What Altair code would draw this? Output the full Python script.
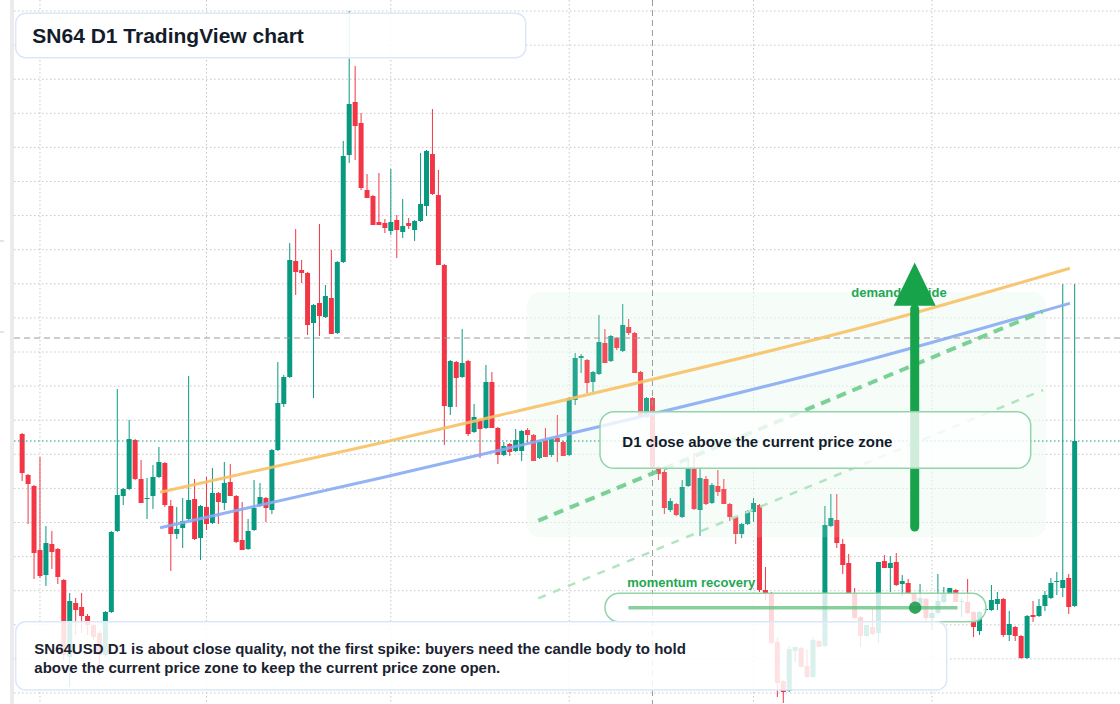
import altair as alt
import pandas as pd

# ---------------- data: SN64USD daily candles (USD), first candle 2025-01-29 ----------------
FIRST_DAY = "2025-01-29"

open_ = [2.70, 2.29, 2.18, 1.54, 1.29, 1.60, 1.55, 1.24, 0.47, 1.01,
         0.97, 0.88, 0.79, 0.71, 0.49, 0.92, 1.73, 2.08, 2.15, 2.64,
         2.25, 2.05, 2.08, 2.27, 2.41, 1.98, 1.70, 1.76, 1.85, 2.05,
         1.66, 1.97, 1.81, 2.11, 2.01, 2.22, 2.08, 1.64, 1.55, 1.74,
         1.98, 2.06, 1.94, 2.54, 3.00, 3.27, 4.43, 4.34, 4.31, 3.81,
         4.01, 3.87, 4.06, 3.71, 4.42, 5.49, 6.02, 5.81, 5.14, 5.08,
         4.82, 4.81, 4.73, 4.84, 4.72, 4.81, 4.74, 4.83, 4.98, 5.50,
         5.09, 4.39, 2.97, 3.42, 3.27, 3.43, 2.72, 2.84, 2.76, 3.22,
         2.76, 2.49, 2.60, 2.53, 2.53, 2.74, 2.69, 2.46, 2.64, 2.49,
         2.66, 2.62, 2.49, 3.04, 3.46, 3.44, 3.22, 3.30, 3.61, 3.43,
         3.66, 3.53, 3.77, 3.71, 3.32, 2.87, 3.06, 2.36, 2.32, 1.94,
         2.00, 1.87, 2.18, 2.35, 1.94, 2.25, 2.01, 2.18, 2.15, 2.00,
         1.87, 1.70, 1.80, 1.92, 1.99, 1.14, 1.11, 0.62, 0.23, 0.13,
         0.53, 0.56, 0.38, 0.27, 0.63, 0.58, 1.78, 1.84, 1.60, 1.41,
         1.11, 0.87, 0.68, 0.77, 0.71, 1.43, 1.36, 1.42, 1.20, 1.21,
         1.10, 0.94, 1.05, 0.86, 0.91, 1.02, 1.11, 1.14, 1.02, 1.02,
         0.92, 0.73, 0.94, 0.94, 1.00, 1.05, 0.69, 0.77, 0.68, 0.46,
         0.89, 0.88, 0.98, 1.06, 1.22, 1.16, 1.26, 0.98]

high = [2.71, 2.30, 2.19, 2.47, 1.78, 1.73, 1.56, 1.25, 1.11, 1.06,
        1.11, 0.90, 0.80, 0.73, 0.93, 1.73, 3.15, 2.16, 2.84, 2.65,
        2.44, 2.26, 2.39, 2.57, 2.42, 2.04, 1.97, 2.06, 3.28, 2.25,
        1.99, 2.27, 2.36, 2.12, 2.42, 2.40, 2.09, 2.02, 1.85, 2.24,
        2.21, 2.07, 2.55, 3.42, 3.29, 4.61, 4.75, 4.44, 4.32, 4.00,
        4.80, 4.19, 4.54, 4.43, 5.63, 6.93, 6.38, 5.91, 5.30, 5.09,
        5.31, 4.85, 5.35, 4.89, 5.05, 4.86, 4.84, 5.51, 5.54, 5.95,
        5.34, 4.40, 3.44, 3.43, 3.75, 3.44, 3.00, 2.85, 3.39, 3.32,
        2.77, 2.62, 2.61, 2.75, 2.74, 2.76, 2.70, 2.63, 2.76, 2.66,
        2.89, 2.63, 3.07, 3.51, 3.50, 3.45, 3.33, 3.89, 3.75, 3.69,
        3.67, 4.00, 3.85, 3.72, 3.33, 3.07, 3.07, 2.38, 2.34, 2.06,
        2.01, 2.24, 2.46, 2.51, 2.37, 2.28, 2.21, 2.34, 2.25, 2.01,
        1.88, 1.81, 1.94, 2.06, 2.00, 1.37, 1.12, 0.67, 0.24, 0.58,
        0.57, 0.57, 0.55, 0.67, 0.64, 1.98, 2.10, 2.10, 1.65, 1.50,
        1.16, 0.88, 0.79, 0.96, 1.42, 1.49, 1.48, 1.51, 1.29, 1.25,
        1.11, 1.20, 1.06, 0.97, 1.30, 1.17, 1.16, 1.15, 1.06, 1.25,
        0.93, 0.93, 0.99, 1.19, 1.12, 1.06, 0.93, 0.78, 0.69, 0.89,
        1.03, 1.05, 1.13, 1.26, 1.32, 4.20, 1.30, 4.20]

low = [2.23, 1.80, 1.25, 1.26, 1.18, 1.35, 1.20, 0.44, 0.17, 0.69,
       0.71, 0.69, 0.64, 0.28, 0.47, 0.91, 1.72, 1.99, 2.14, 2.24,
       2.01, 1.85, 1.95, 2.26, 1.97, 1.33, 1.65, 1.56, 1.83, 1.64,
       1.44, 1.74, 1.80, 1.80, 1.94, 2.20, 1.61, 1.54, 1.54, 1.73,
       1.97, 1.82, 1.90, 2.53, 2.97, 3.26, 4.09, 4.21, 3.69, 3.06,
       3.68, 3.86, 3.70, 3.70, 4.41, 5.41, 5.44, 5.14, 5.06, 4.79,
       4.79, 4.71, 4.69, 4.46, 4.66, 4.75, 4.63, 4.82, 4.88, 5.09,
       4.39, 2.59, 2.89, 2.97, 3.26, 2.68, 2.71, 2.46, 2.75, 2.76,
       2.40, 2.48, 2.48, 2.52, 2.43, 2.61, 2.43, 2.45, 2.47, 2.47,
       2.42, 2.48, 2.48, 2.99, 3.31, 3.11, 3.12, 3.29, 3.41, 3.42,
       3.54, 3.52, 3.69, 3.31, 2.87, 2.86, 2.36, 2.24, 1.90, 1.92,
       1.88, 1.86, 2.17, 1.94, 1.68, 1.99, 2.00, 2.08, 2.00, 1.83,
       1.60, 1.66, 1.79, 1.82, 1.12, 1.04, 0.60, 0.07, 0.01, 0.12,
       0.42, 0.37, 0.26, 0.26, 0.57, 0.57, 1.77, 1.56, 1.30, 1.10,
       0.85, 0.57, 0.67, 0.69, 0.61, 1.36, 1.12, 1.18, 1.08, 1.11,
       1.01, 0.93, 0.81, 0.74, 0.90, 1.01, 1.10, 1.02, 0.87, 0.90,
       0.67, 0.69, 0.91, 0.93, 0.94, 0.67, 0.63, 0.63, 0.45, 0.45,
       0.82, 0.87, 0.93, 1.05, 1.09, 1.07, 0.90, 0.97]

close = [2.31, 2.20, 1.51, 1.28, 1.61, 1.52, 1.27, 0.49, 1.03, 0.94,
         0.88, 0.79, 0.67, 0.49, 0.92, 1.72, 2.09, 2.15, 2.65, 2.25,
         2.01, 2.06, 2.27, 2.42, 1.99, 1.70, 1.75, 1.83, 2.04, 1.65,
         1.98, 1.80, 2.11, 2.02, 2.21, 2.08, 1.62, 1.54, 1.73, 1.96,
         2.07, 1.96, 2.54, 3.01, 3.27, 4.44, 4.32, 4.31, 3.79, 3.99,
         3.88, 4.08, 3.70, 4.42, 5.48, 6.00, 5.78, 5.16, 5.06, 4.79,
         4.79, 4.76, 4.82, 4.74, 4.78, 4.78, 4.83, 5.00, 5.53, 5.10,
         4.39, 2.98, 3.43, 3.26, 3.41, 2.70, 2.87, 2.75, 3.22, 2.76,
         2.49, 2.58, 2.52, 2.64, 2.73, 2.69, 2.43, 2.62, 2.47, 2.65,
         2.62, 2.48, 3.06, 3.46, 3.48, 3.21, 3.32, 3.62, 3.41, 3.68,
         3.56, 3.79, 3.71, 3.31, 2.87, 3.06, 2.37, 2.30, 1.96, 2.03,
         1.89, 2.17, 2.36, 1.95, 2.26, 2.00, 2.19, 2.12, 2.00, 1.87,
         1.70, 1.80, 1.93, 2.01, 1.14, 1.11, 0.61, 0.21, 0.12, 0.55,
         0.57, 0.37, 0.27, 0.64, 0.57, 1.79, 1.86, 1.61, 1.39, 1.11,
         0.86, 0.68, 0.79, 0.70, 1.42, 1.36, 1.41, 1.19, 1.23, 1.11,
         1.02, 1.06, 0.86, 0.91, 1.03, 1.11, 1.16, 1.02, 1.03, 0.91,
         0.77, 0.92, 0.95, 1.04, 1.05, 0.69, 0.80, 0.68, 0.46, 0.88,
         0.87, 0.98, 1.09, 1.21, 1.23, 1.24, 0.97, 2.63]

# grid: first day of each month (vertical) and price levels (horizontal)
grid_months = ["2025-02-01", "2025-03-01", "2025-04-01", "2025-05-01", "2025-06-01", "2025-07-01"]
grid_prices = [round(6.93 - 0.341 * k, 3) for k in range(21)]

# annotation anchors: (day offset from FIRST_DAY, price)
orange_trend = [(23.2, 2.117), (60.45, 2.613), (80.45, 2.89), (143.8, 3.807), (176.2, 4.357)]
blue_trend = [(23.2, 1.763), (60.45, 2.263), (80.45, 2.54), (143.8, 3.465), (176.2, 4.007)]
demand_dash = [(86.8, 1.833), (171.6, 3.923)]
support_dash = [(86.8, 1.057), (171.7, 3.14)]
demand_zone = {"d0": 84.9, "d1": 172.2, "p0": 1.667, "p1": 4.123}
cross_day, cross_price = 106, 3.66
arrow_day, arrow_p0, arrow_p1, arrow_head = 150.1, 1.77, 3.95, 4.198
momentum_p, momentum_d0, momentum_d1, momentum_dot = 0.963, 101.95, 157.3, 150.17

GREEN, RED = "#089981", "#f23645"
FONT = "Liberation Sans"
GRID = "#c6c6c6"


def ts(day):
    return pd.Timestamp(FIRST_DAY, tz="UTC") + pd.Timedelta(days=day)


def iso(day):
    return ts(day).strftime("%Y-%m-%dT%H:%M:%SZ")


def ms(day):
    return int(ts(day).value // 1_000_000)


XS = alt.Scale(type="utc", domain=[ms(-2.883), ms(183.783)])
YS = alt.Scale(domain=[0, 7.04], nice=False, zero=False)


def X(field):
    return alt.X(field, scale=XS, axis=None)


def Y(field):
    return alt.Y(field, scale=YS, axis=None)


candles = pd.DataFrame({
    "date": [iso(i) for i in range(len(open_))],
    "open": open_, "high": high, "low": low, "close": close,
})
candles["dir"] = ["up" if c >= o else "down" for o, c in zip(open_, close)]

color = alt.Color("dir:N", scale=alt.Scale(domain=["up", "down"], range=[GREEN, RED]), legend=None)

grid_v = alt.Chart(pd.DataFrame({"d": [m + "T00:00:00Z" for m in grid_months]})).mark_rule(
    color=GRID, strokeDash=[1.5, 2.5], strokeWidth=1).encode(x=X("d:T"))
grid_h = alt.Chart(pd.DataFrame({"p": grid_prices})).mark_rule(
    color=GRID, strokeDash=[1.5, 2.5], strokeWidth=1).encode(
    y=Y("p:Q"), x=alt.value(14), x2=alt.value(1120))

wicks = alt.Chart(candles).mark_rule(strokeWidth=1).encode(
    x=X("date:T"), y=Y("low:Q"), y2="high:Q", color=color)
bodies = alt.Chart(candles).mark_bar(size=5).encode(
    x=X("date:T"), y=Y("open:Q"), y2="close:Q", color=color)

one = pd.DataFrame({"k": [0]})


def px_rect(x0, x1, y0, y1, **kw):
    return alt.Chart(one).mark_rect(**kw).encode(
        x=alt.value(x0), x2=alt.value(x1), y=alt.value(y0), y2=alt.value(y1))


def px_text(x, y, txt, **kw):
    return alt.Chart(one).mark_text(align="left", baseline="alphabetic", font=FONT,
                                    fontWeight="bold", text=txt, **kw).encode(
        x=alt.value(x), y=alt.value(y))


left_strip = px_rect(10, 14, 0, 704, fill="#ebebeb")
left_mark1 = px_rect(0, 4, 240.5, 241.5, fill="#c8c8c8")
left_mark2 = px_rect(0, 4, 331.5, 332.5, fill="#c8c8c8")

zone_df = pd.DataFrame([{"x": iso(demand_zone["d0"]), "x2": iso(demand_zone["d1"]),
                         "y": demand_zone["p0"], "y2": demand_zone["p1"]}])
zone = alt.Chart(zone_df).mark_rect(cornerRadius=14, fill="#edf9f0", fillOpacity=0.5).encode(
    x=X("x:T"), x2="x2:T", y=Y("y:Q"), y2="y2:Q")
zone_veil = alt.Chart(zone_df).mark_rect(cornerRadius=14, fill="#f4fcf6", fillOpacity=0.12).encode(
    x=X("x:T"), x2="x2:T", y=Y("y:Q"), y2="y2:Q")

price_line = alt.Chart(pd.DataFrame({"p": [close[-1]]})).mark_rule(
    color=GREEN, strokeDash=[1.5, 2.5], strokeWidth=1).encode(
    y=Y("p:Q"), x=alt.value(14), x2=alt.value(1120))

cross_v = alt.Chart(pd.DataFrame({"d": [iso(cross_day)]})).mark_rule(
    color="#9a9a9a", strokeDash=[6, 4], strokeWidth=1).encode(x=X("d:T"))
cross_h = alt.Chart(pd.DataFrame({"p": [cross_price]})).mark_rule(
    color="#9a9a9a", strokeDash=[6, 4], strokeWidth=1).encode(
    y=Y("p:Q"), x=alt.value(14), x2=alt.value(1120))


def trend(points, **kw):
    df = pd.DataFrame({"d": [iso(d) for d, _ in points], "p": [p for _, p in points]})
    return alt.Chart(df).mark_line(**kw).encode(x=X("d:T"), y=Y("p:Q"))


orange = trend(orange_trend, interpolate="monotone", color="#f7c165", strokeWidth=3, opacity=0.9)
blue = trend(blue_trend, interpolate="monotone", color="#88abf4", strokeWidth=3, opacity=0.9)
dash_thick = trend(demand_dash, color="#6dcc8c", strokeWidth=4, strokeDash=[10, 7], opacity=0.9)
dash_thin = trend(support_dash, color="#b3e4c2", strokeWidth=2.5, strokeDash=[8, 8])

demand_label = px_text(851.3, 297.3, "demand upside", fontSize=13, color="#22a852")

arrow_shaft = alt.Chart(pd.DataFrame({"d": [iso(arrow_day)], "p0": [arrow_p0], "p1": [arrow_p1]})).mark_rule(
    color="#16a34a", strokeWidth=9, strokeCap="round").encode(x=X("d:T"), y=Y("p0:Q"), y2="p1:Q")
arrow_tip = alt.Chart(pd.DataFrame({"d": [iso(arrow_day)], "p": [arrow_head]})).mark_point(
    shape="M0,-1.03L1,1.03L-1,1.03Z", size=1764, filled=True, color="#16a34a",
    opacity=1, strokeWidth=0).encode(x=X("d:T"), y=Y("p:Q"))

d1_box = px_rect(600, 1030.7, 411.7, 468.3, cornerRadius=14, fill="white", fillOpacity=0.8,
                 stroke="#93d4a8", strokeWidth=1.5)
d1_text = px_text(622.3, 446.7, "D1 close above the current price zone", fontSize=15, color="#131c2b")

pill = px_rect(605, 986, 593.3, 621.7, cornerRadius=14, fill="white", fillOpacity=0.8,
               stroke="#93d4a8", strokeWidth=1.5)
pill_line = alt.Chart(pd.DataFrame({"a": [iso(momentum_d0)], "b": [iso(momentum_d1)], "p": [momentum_p]})).mark_rule(
    color="#5fc07e", strokeWidth=3.5, opacity=0.75).encode(x=X("a:T"), x2="b:T", y=Y("p:Q"))
pill_dot = alt.Chart(pd.DataFrame({"d": [iso(momentum_dot)], "p": [momentum_p]})).mark_circle(
    size=154, color="#1f9a4c", opacity=0.9).encode(x=X("d:T"), y=Y("p:Q"))
momentum_label = px_text(627.3, 586.7, "momentum recovery", fontSize=13, color="#22a852")

title_box = px_rect(15.7, 525.7, 13.3, 57.7, cornerRadius=10, fill="white", fillOpacity=0.9,
                    stroke="#dce7fa", strokeWidth=1.5)
title_text = px_text(32.3, 43.3, "SN64 D1 TradingView chart", fontSize=21, color="#131c2b")

note_box = px_rect(15.7, 946.7, 621.7, 690, cornerRadius=10, fill="white", fillOpacity=0.85,
                   stroke="#dce7fa", strokeWidth=1.5)
note_1 = px_text(34.3, 654, "SN64USD D1 is about close quality, not the first spike: buyers need the candle body to hold",
                 fontSize=15, color="#1a2230")
note_2 = px_text(34.3, 673.3, "above the current price zone to keep the current price zone open.",
                 fontSize=15, color="#1a2230")

chart = alt.layer(
    grid_v, grid_h, left_strip, left_mark1, left_mark2, zone, wicks, bodies, zone_veil,
    price_line, cross_v, cross_h,
    orange, blue, dash_thick, dash_thin, demand_label, arrow_shaft, arrow_tip,
    d1_box, d1_text, pill, pill_line, pill_dot, momentum_label,
    title_box, title_text, note_box, note_1, note_2,
).properties(
    width=1120, height=704, padding=0, background="white",
    autosize=alt.AutoSizeParams(type="none"),
).configure_view(stroke=None)

chart.save("out.html", embed_options={"renderer": "svg", "actions": False})
